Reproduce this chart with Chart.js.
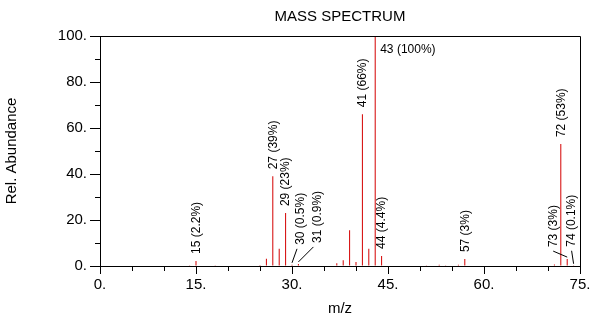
<!DOCTYPE html>
<html>
<head>
<meta charset="utf-8">
<script src="https://cdn.jsdelivr.net/npm/chart.js@4.4.1/dist/chart.umd.min.js"></script>
<style>
  html, body { margin: 0; padding: 0; background: #fff; }
  #wrap { width: 598px; height: 326px; }
</style>
</head>
<body>
<div id="wrap"><canvas id="ms-chart"></canvas></div>
<script>
// peaks
var massToCharge = [14, 15, 18, 25, 26, 27, 28, 29, 30, 31, 37, 38, 39, 40, 41, 42, 43, 44, 50, 51, 53, 54, 56, 57, 71, 72, 73, 74];
var relAbundance = [0.3, 2.2, 0.3, 0.4, 3.2, 39, 7.5, 23, 0.5, 0.9, 1.2, 2.5, 15.5, 1.7, 66, 7.5, 100, 4.4, 0.2, 0.3, 0.5, 0.3, 0.5, 3, 0.7, 53, 3, 0.1];
var labelledPeaks = [15, 27, 29, 30, 31, 41, 43, 44, 57, 72, 73, 74];

var FONT = '"Liberation Sans", Arial, sans-serif';
// label offsets [dx, gap above peak] for labels moved off their peak
var labelShift = { 30: [9, 20], 31: [19, 21], 73: [-14, 12], 74: [-2, 19] };

var peakLabels = {
  id: 'peakLabels',
  afterDatasetsDraw: function (chart) {
    var ctx = chart.ctx, xs = chart.scales.x, ys = chart.scales.y;
    ctx.save();
    ctx.font = '12px ' + FONT;
    ctx.fillStyle = '#000';
    ctx.strokeStyle = '#000';
    ctx.lineWidth = 1;
    labelledPeaks.forEach(function (mz) {
      var value = relAbundance[massToCharge.indexOf(mz)];
      var text = mz + ' (' + value + '%)';
      var px = xs.getPixelForValue(mz), py = ys.getPixelForValue(value);
      if (value === 100) {
        ctx.textAlign = 'left';
        ctx.textBaseline = 'middle';
        ctx.fillText(text, px + 5, py + 14);
        return;
      }
      var shift = labelShift[mz] || [0.5, 7];
      var tx = px + shift[0], ty = py - shift[1];
      ctx.save();
      ctx.translate(tx, ty);
      ctx.rotate(-Math.PI / 2);
      ctx.textAlign = 'left';
      ctx.textBaseline = 'middle';
      ctx.fillText(text, 0, 0);
      ctx.restore();
      if (labelShift[mz]) {
        ctx.beginPath();
        ctx.moveTo(tx + (shift[0] > 0 ? -4 : 0), ty + 4);
        ctx.lineTo(px, py - 2);
        ctx.stroke();
      }
    });
    ctx.restore();
  }
};

var frame = {
  id: 'frame',
  afterDraw: function (chart) {
    var a = chart.chartArea, ctx = chart.ctx;
    ctx.save();
    ctx.strokeStyle = '#000';
    ctx.lineWidth = 1;
    ctx.beginPath();
    ctx.moveTo(Math.round(a.left) + 0.5, Math.round(a.top) + 0.5);
    ctx.lineTo(Math.round(a.right) + 0.5, Math.round(a.top) + 0.5);
    ctx.lineTo(Math.round(a.right) + 0.5, Math.round(a.bottom) + 8);
    ctx.stroke();
    ctx.restore();
  }
};

var ctx = document.getElementById('ms-chart').getContext('2d');

var chart = new Chart(ctx, {
  type: 'bar',
  data: {
    datasets: [{
      data: massToCharge.map(function (mz, i) { return { x: mz, y: relAbundance[i] }; }),
      backgroundColor: '#d40000',
      barThickness: 1,
      inflateAmount: 0,
      borderWidth: 0
    }]
  },
  options: {
    responsive: true,
    maintainAspectRatio: false,
    animation: false,
    layout: { padding: { left: 0, right: 18, top: 0, bottom: 0 } },
    plugins: {
      legend: { display: false },
      tooltip: { enabled: false },
      title: {
        display: true,
        text: 'MASS SPECTRUM',
        fullSize: false,
        color: '#000',
        font: { family: FONT, size: 15, weight: 'normal' },
        padding: { top: 8, bottom: 10 }
      }
    },
    scales: {
      x: {
        type: 'linear',
        min: 0, max: 75,
        offset: false,
        weight: 1,
        afterFit: function (s) { s.height = 60; },
        ticks: {
          stepSize: 15,
          color: '#000',
          padding: 2,
          font: { family: FONT, size: 15 },
          callback: function (v) { return v + '.'; }
        },
        grid: { drawOnChartArea: false, offset: false, tickLength: 8, color: '#000' },
        border: { color: '#000' },
        title: {
          display: true, text: 'm/z', color: '#000',
          font: { family: FONT, size: 15 },
          padding: { top: 0, bottom: 8 }
        }
      },
      xMinor: {
        type: 'linear',
        position: 'bottom',
        min: 0, max: 75,
        offset: false,
        afterFit: function (s) { s.height = 0; },
        ticks: { stepSize: 5, display: false },
        grid: { drawOnChartArea: false, offset: false, tickLength: 5, color: '#000' },
        border: { display: false }
      },
      y: {
        min: 0, max: 100,
        weight: 1,
        afterFit: function (s) { s.width = 100; },
        ticks: {
          stepSize: 20,
          color: '#000',
          padding: 3,
          font: { family: FONT, size: 15 },
          callback: function (v) { return v + '.'; }
        },
        grid: { drawOnChartArea: false, tickLength: 10, color: '#000' },
        border: { color: '#000' },
        title: {
          display: true, text: 'Rel. Abundance', color: '#000',
          font: { family: FONT, size: 15 },
          padding: { top: 3, bottom: 0 }
        }
      },
      yMinor: {
        position: 'left',
        min: 0, max: 100,
        afterFit: function (s) { s.width = 0; },
        ticks: { stepSize: 10, display: false },
        grid: { drawOnChartArea: false, tickLength: 5, color: '#000' },
        border: { display: false }
      }
    }
  },
  plugins: [peakLabels, frame]
});
</script>
</body>
</html>
